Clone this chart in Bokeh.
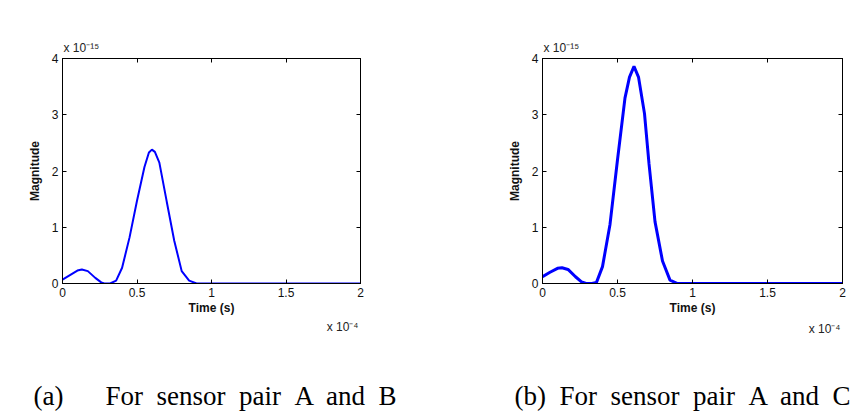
from bokeh.plotting import figure
from bokeh.layouts import column, row
from bokeh.models import LinearAxis, Label, Range1d, FixedTicker, Title
from bokeh.embed import file_html
from bokeh.resources import INLINE

# time axis values (x 1e-4 s)
time_a = [0.0, 0.05, 0.1, 0.13, 0.17, 0.22, 0.26, 0.28, 0.32, 0.36, 0.4, 0.45, 0.5, 0.55, 0.58, 0.6,
          0.62, 0.65, 0.7, 0.75, 0.8, 0.85, 0.9, 1.0, 1.5, 2.0]
mag_a = [0.07, 0.15, 0.23, 0.25, 0.22, 0.1, 0.02, 0.0, 0.0, 0.05, 0.28, 0.82, 1.47, 2.07, 2.33, 2.38,
         2.34, 2.15, 1.45, 0.76, 0.22, 0.05, 0.0, 0.0, 0.0, 0.0]
time_b = [0.0, 0.05, 0.1, 0.13, 0.17, 0.22, 0.26, 0.29, 0.33, 0.36, 0.4, 0.45, 0.5, 0.55, 0.58, 0.61,
          0.64, 0.68, 0.71, 0.75, 0.8, 0.85, 0.9, 1.0, 1.5, 2.0]
mag_b = [0.12, 0.2, 0.27, 0.28, 0.25, 0.12, 0.03, 0.0, 0.0, 0.02, 0.3, 1.05, 2.2, 3.3, 3.67, 3.86,
         3.67, 3.02, 2.13, 1.1, 0.4, 0.06, 0.0, 0.0, 0.0, 0.0]
x_ticks = [0, 0.5, 1, 1.5, 2]
x_tick_labels = {0: "0", 0.5: "0.5", 1: "1", 1.5: "1.5", 2: "2"}
y_ticks = [0, 1, 2, 3, 4]
x_exp_text = "x 10\u207b\u2074"
y_exp_text_a = "x 10\u207b\u00b9\u2075"
y_exp_text_b = "x 10\u207b\u00b9\u2075"
caption_a_tag = "(a)"
caption_a = "For sensor pair A and B"
caption_b = "(b) For sensor pair A and C"

SANS = "Liberation Sans"
SERIF = "Liberation Serif"


def widen(s):
    # wide inter-word gaps as in the justified caption
    return s.replace(" ", " \u00a0")


def make_plot(t, m, lw, left, right, yexp, xexp_standoff):
    p = figure(width=432, height=342, output_backend="svg", toolbar_location=None, title=None,
               x_range=Range1d(0, 2), y_range=Range1d(0, 4),
               min_border_left=left, min_border_right=right, min_border_top=58,
               min_border_bottom=59)
    p.line(t, m, line_color="#0000ff", line_width=lw)
    p.grid.visible = False
    p.outline_line_color = "black"
    p.outline_line_width = 1
    for ax in (p.xaxis[0], p.yaxis[0]):
        ax.major_tick_in = 4
        ax.major_tick_out = 0
        ax.minor_tick_line_color = None
        ax.major_label_text_font = SANS
        ax.major_label_text_font_size = "12px"
        ax.major_label_text_color = "#111111"
        ax.axis_label_text_font = SANS
        ax.axis_label_text_font_size = "12px"
        ax.axis_label_text_font_style = "bold"
        ax.axis_label_text_color = "#111111"
        ax.axis_line_color = "black"
    p.xaxis[0].ticker = FixedTicker(ticks=x_ticks)
    p.xaxis[0].major_label_overrides = x_tick_labels
    p.yaxis[0].ticker = FixedTicker(ticks=y_ticks)
    p.xaxis[0].axis_label = "Time (s)"
    p.yaxis[0].axis_label = "Magnitude"
    p.xaxis[0].major_label_standoff = 4
    p.yaxis[0].major_label_standoff = 4
    p.xaxis[0].axis_label_standoff = 1
    p.yaxis[0].axis_label_standoff = 7
    # mirrored axes with inward ticks
    top = LinearAxis(ticker=FixedTicker(ticks=x_ticks), major_label_text_color=None,
                     major_tick_in=4, major_tick_out=0, minor_tick_line_color=None)
    rgt = LinearAxis(ticker=FixedTicker(ticks=y_ticks), major_label_text_color=None,
                     major_tick_in=4, major_tick_out=0, minor_tick_line_color=None)
    p.add_layout(top, "above")
    p.add_layout(rgt, "right")
    # exponent labels
    p.add_layout(Title(text=yexp, align="left", offset=1, standoff=8, text_font=SANS,
                       text_font_size="12px", text_font_style="normal", text_color="#222222"),
                 "above")
    p.add_layout(Title(text=x_exp_text, align="right", offset=2, standoff=xexp_standoff,
                       text_font=SANS, text_font_size="12px", text_font_style="normal",
                       text_color="#222222"), "below")
    return p


pa = make_plot(time_a, mag_a, 2, 62, 72, y_exp_text_a, 0)
pb = make_plot(time_b, mag_b, 3, 110, 22, y_exp_text_b, 4)

cap = figure(width=864, height=72, output_backend="svg", toolbar_location=None, title=None,
             x_range=Range1d(0, 864), y_range=Range1d(0, 72), min_border=0)
cap.axis.visible = False
cap.grid.visible = False
cap.outline_line_color = None
for xx, txt in ((33, caption_a_tag), (105, widen(caption_a)), (514, widen(caption_b))):
    cap.add_layout(Label(x=xx, y=19, text=txt, text_font=SERIF, text_font_size="27px",
                         text_color="black", text_baseline="alphabetic"))

layout = column(row(pa, pb), cap)
open("out.html", "w").write(file_html(layout, INLINE))
